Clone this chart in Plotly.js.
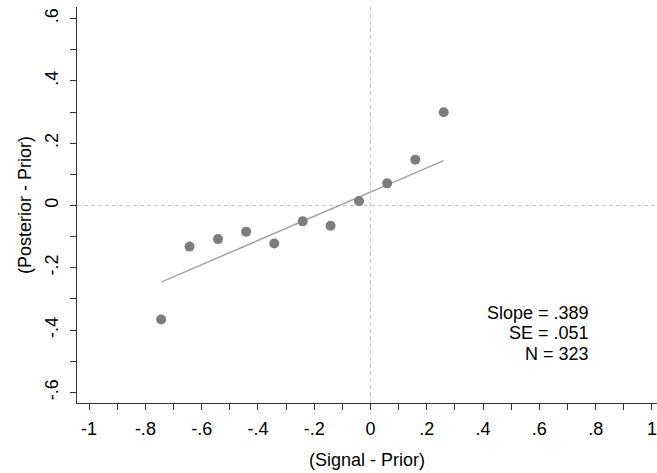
<!DOCTYPE html>
<html>
<head>
<meta charset="utf-8">
<script src="https://cdn.plot.ly/plotly-3.0.1.min.js"></script>
<style>html,body{margin:0;padding:0;background:#fff;}#chart{width:657px;height:473px;}</style>
</head>
<body>
<div id="chart"></div>
<script>
// Binned scatter points
const binX = [-0.744, -0.643, -0.542, -0.442, -0.342, -0.241, -0.142, -0.041, 0.059, 0.159, 0.260];
const binY = [-0.366, -0.132, -0.108, -0.084, -0.122, -0.051, -0.065, 0.014, 0.071, 0.147, 0.299];
// Fitted line endpoints
const fitX = [-0.744, 0.260];
const fitY = [-0.246, 0.144];
// Tick labels
const xTickVals = [-1, -0.8, -0.6, -0.4, -0.2, 0, 0.2, 0.4, 0.6, 0.8, 1];
const xTickText = ['-1', '-.8', '-.6', '-.4', '-.2', '0', '.2', '.4', '.6', '.8', '1'];
const yTickVals = [-0.6, -0.4, -0.2, 0, 0.2, 0.4, 0.6];
const yTickText = ['-.6', '-.4', '-.2', '0', '.2', '.4', '.6'];
// Statistics text
const statLines = ['Slope = .389', 'SE = .051', 'N = 323'];

const FONT = 'Arial, "Liberation Sans", sans-serif';
const statY = [-0.345, -0.409, -0.476];

const traces = [
  {x: fitX, y: fitY, type: 'scatter', mode: 'lines',
   line: {color: '#a3a3a3', width: 1.5}, hoverinfo: 'skip'},
  {x: binX, y: binY, type: 'scatter', mode: 'markers',
   marker: {color: '#7d7d7d', size: 10, line: {width: 0}}}
];

const layout = {
  width: 657, height: 473,
  margin: {l: 77, r: 0, t: 7, b: 70},
  paper_bgcolor: '#ffffff', plot_bgcolor: '#ffffff',
  showlegend: false,
  font: {family: FONT, size: 18, color: '#000'},
  xaxis: {
    range: [-1.043, 1.018], showgrid: false, zeroline: false,
    showline: true, linecolor: '#333', linewidth: 1,
    ticks: 'outside', ticklen: 6, tickcolor: '#333', tickwidth: 1,
    tickvals: xTickVals, ticktext: xTickText, ticklabelstandoff: 3,
    tickfont: {family: FONT, size: 18, color: '#000'},
    minor: {dtick: 0.1, tick0: 0, ticks: 'outside', ticklen: 6, tickcolor: '#333', tickwidth: 1, showgrid: false},
    title: {text: '(Signal - Prior)', font: {family: FONT, size: 18, color: '#000'}, standoff: 15}
  },
  yaxis: {
    range: [-0.634, 0.637], showgrid: false, zeroline: false,
    showline: true, linecolor: '#333', linewidth: 1,
    ticks: 'outside', ticklen: 6, tickcolor: '#333', tickwidth: 1,
    tickvals: yTickVals, ticktext: yTickText, tickangle: -90, ticklabelstandoff: 5,
    tickfont: {family: FONT, size: 18, color: '#000'},
    minor: {dtick: 0.1, tick0: 0, ticks: 'outside', ticklen: 6, tickcolor: '#333', tickwidth: 1, showgrid: false},
    title: {text: '(Posterior - Prior)', font: {family: FONT, size: 18, color: '#000'}, standoff: 5}
  },
  shapes: [
    {type: 'line', xref: 'x', yref: 'paper', x0: 0, x1: 0, y0: 0, y1: 1,
     line: {color: '#c8c8c8', width: 1, dash: '4px,3px'}, layer: 'below'},
    {type: 'line', xref: 'paper', yref: 'y', x0: 0, x1: 1, y0: 0, y1: 0,
     line: {color: '#c8c8c8', width: 1, dash: '4px,3px'}, layer: 'below'}
  ],
  annotations: statLines.map((t, i) => ({
    text: t, xref: 'x', yref: 'y', x: 0.783, y: statY[i],
    xanchor: 'right', yanchor: 'middle', showarrow: false,
    font: {family: FONT, size: 18, color: '#000'}
  }))
};

Plotly.newPlot('chart', traces, layout, {displayModeBar: false, staticPlot: true});
</script>
</body>
</html>
